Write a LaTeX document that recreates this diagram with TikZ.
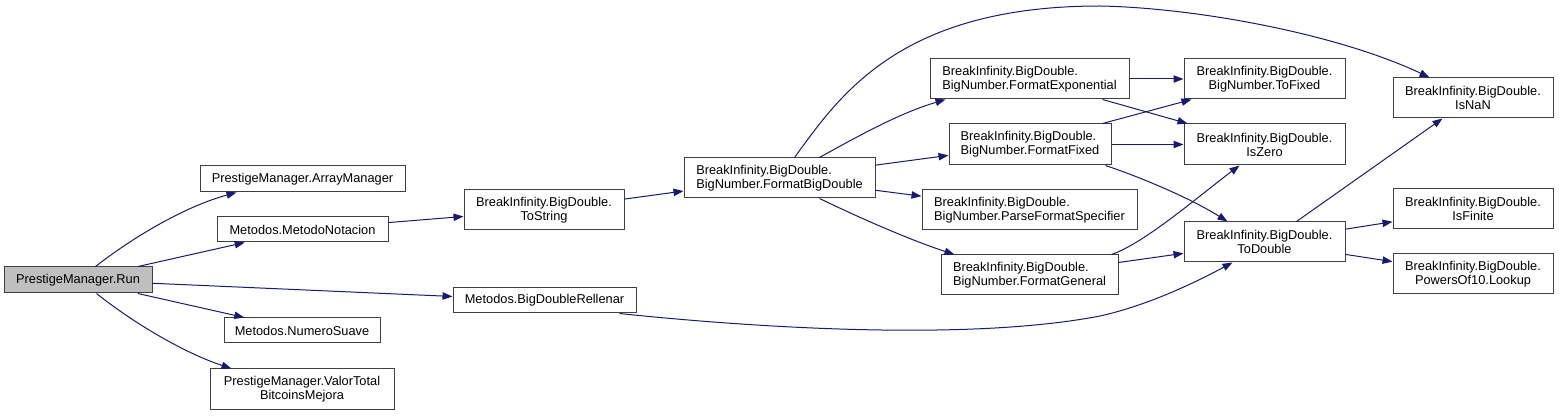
\documentclass[tikz,border=0pt]{standalone}
\usepackage{fontspec}
\setmainfont{Liberation Sans}
\usetikzlibrary{arrows.meta,calc}
\definecolor{edgecol}{HTML}{191970}
\definecolor{boxcol}{HTML}{404040}
\definecolor{runfill}{HTML}{BFBFBF}
\begin{document}
\begin{tikzpicture}[x=0.75pt,y=-0.75pt,
  box/.style 2 args={draw=boxcol, line width=0.75pt, fill=white,
    minimum width=#1*0.75pt, minimum height=#2*0.75pt, inner sep=0pt,
    font=\fontsize{9.6}{10.5}\selectfont, align=center},
  lbox/.style 2 args={box={#1}{#2}, align=left},
  link/.style={draw=edgecol, line width=0.75pt, -{Triangle[length=7.5pt,width=5.5pt]}}]
\useasboundingbox (0,0) rectangle (1559,416);
% nodes
\node[box={148}{26}, fill=runfill] (run) at (78,280) {PrestigeManager.Run};
\node[box={205}{26}] (am) at (302.5,179) {PrestigeManager.ArrayManager};
\node[box={171}{25}] (mn) at (302.5,229.5) {Metodos.MetodoNotacion};
\node[box={156}{25}] (ns) at (302,330.5) {Metodos.NumeroSuave};
\node[box={184}{40}] (vt) at (302,389) {PrestigeManager.ValorTotal\\BitcoinsMejora};
\node[box={160}{40}] (ts) at (544,210) {BreakInfinity.BigDouble.\\ToString};
\node[box={183}{25}] (bdr) at (544.5,300.5) {Metodos.BigDoubleRellenar};
\node[lbox={191}{40}] (fbd) at (779.5,178) {BreakInfinity.BigDouble.\\BigNumber.FormatBigDouble};
\node[lbox={199}{40}] (fe) at (1029.5,79) {BreakInfinity.BigDouble.\\BigNumber.FormatExponential};
\node[lbox={162}{41}] (ff) at (1030,144.5) {BreakInfinity.BigDouble.\\BigNumber.FormatFixed};
\node[lbox={215}{40}] (pfs) at (1029.5,210) {BreakInfinity.BigDouble.\\BigNumber.ParseFormatSpecifier};
\node[lbox={177}{40}] (fg) at (1029.5,275) {BreakInfinity.BigDouble.\\BigNumber.FormatGeneral};
\node[box={161}{40}] (tf) at (1264.5,79) {BreakInfinity.BigDouble.\\BigNumber.ToFixed};
\node[box={161}{41}] (iz) at (1264.5,144.5) {BreakInfinity.BigDouble.\\IsZero};
\node[box={161}{40}] (td) at (1264.5,242) {BreakInfinity.BigDouble.\\ToDouble};
\node[box={160}{40}] (isnan) at (1473,98) {BreakInfinity.BigDouble.\\IsNaN};
\node[box={160}{40}] (isf) at (1473,209) {BreakInfinity.BigDouble.\\IsFinite};
\node[box={160}{40}] (pow) at (1473,274) {BreakInfinity.BigDouble.\\PowersOf10.Lookup};
% edges
\draw[link] ($(run.north west)+(92,0)$) .. controls (140,232) and (190,205) .. ($(am.south west)+(37,0)$);
\draw[link] (run) -- (mn);
\draw[link] (run) -- (bdr);
\draw[link] (run) -- (ns);
\draw[link] ($(run.south west)+(93,0)$) .. controls (140,328) and (190,355) .. ($(vt.north west)+(22,0)$);
\draw[link] (mn) -- (ts);
\draw[link] (ts) -- (fbd);
\draw[link] ($(fbd.north west)+(111,0)$) .. controls (840,95) and (900,6) .. (1100,6) .. controls (1200,8) and (1340,35) .. ($(isnan.north west)+(37,0)$);
\draw[link] ($(fbd.north west)+(136,0)$) .. controls (860,135) and (900,113) .. ($(fe.south west)+(16,0)$);
\draw[link] (fbd) -- (ff);
\draw[link] (fbd) -- (pfs);
\draw[link] ($(fbd.south west)+(136,0)$) .. controls (860,218) and (910,240) .. ($(fg.north west)+(14,0)$);
\draw[link] (fe) -- (tf);
\draw[link] ($(fe.south west)+(173,0)$) -- ($(iz.north west)+(4,0)$);
\draw[link] ($(ff.north west)+(154,0)$) -- ($(tf.south west)+(8,0)$);
\draw[link] (ff) -- (iz);
\draw[link] ($(ff.south west)+(157,0)$) .. controls (1140,177) and (1190,198) .. ($(td.north west)+(44,0)$);
\draw[link] ($(fg.north west)+(171,0)$) .. controls (1145,243) and (1200,195) .. ($(iz.south west)+(56,0)$);
\draw[link] (fg) -- (td);
\draw[link] ($(bdr.south west)+(167,0)$) .. controls (700,322) and (950,345) .. (1100,316) .. controls (1150,305) and (1200,280) .. ($(td.south west)+(49,0)$);
\draw[link] ($(td.north west)+(113,0)$) -- ($(isnan.south west)+(50,0)$);
\draw[link] (td) -- (isf);
\draw[link] (td) -- (pow);
\end{tikzpicture}
\end{document}
